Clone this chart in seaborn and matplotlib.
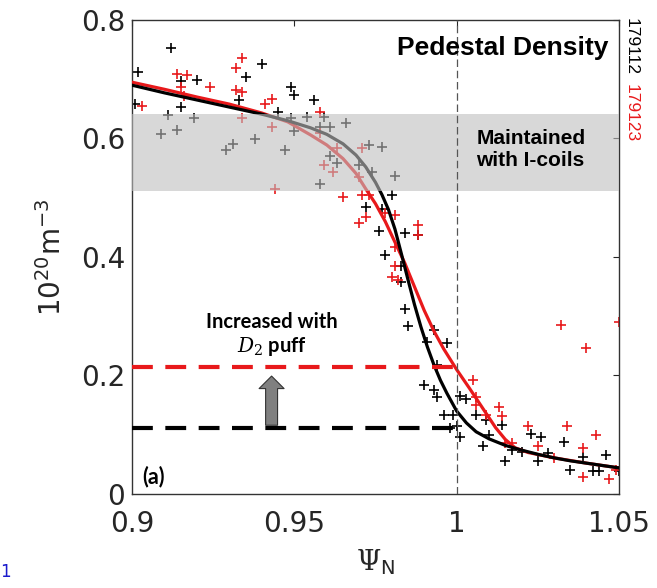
import matplotlib
matplotlib.use("Agg")
import matplotlib.pyplot as plt
import seaborn as sns

# shot 179112 (black) raw points
black_x = [0.912, 0.902, 0.915, 0.920, 0.940, 0.935, 0.933, 0.915, 0.901, 0.949, 0.950, 0.945, 0.956,
           0.911, 0.919, 0.909, 0.914, 0.929, 0.931, 0.938, 0.947, 0.949, 0.950, 0.954, 0.958, 0.961,
           0.966, 0.973, 0.977, 0.961, 0.963, 0.970, 0.974, 0.981, 0.958, 0.959,
           0.980, 0.972, 0.977, 0.976, 0.984, 0.988, 0.978, 0.983, 0.983, 0.984, 0.985, 0.993, 0.991,
           0.997, 0.994, 0.990, 0.993, 0.994, 1.001, 1.003, 0.996, 0.999, 1.006, 0.998, 1.000, 1.001,
           1.009, 1.014, 1.010, 1.008, 1.023, 1.026, 1.017, 1.020, 1.015, 1.025, 1.028, 1.033, 1.039,
           1.035, 1.042, 1.044, 1.046, 1.050]
black_y = [0.753, 0.712, 0.697, 0.698, 0.726, 0.703, 0.665, 0.653, 0.658, 0.687, 0.673, 0.644, 0.665,
           0.640, 0.635, 0.607, 0.614, 0.581, 0.590, 0.599, 0.581, 0.634, 0.612, 0.637, 0.620, 0.619,
           0.626, 0.589, 0.586, 0.571, 0.558, 0.555, 0.544, 0.537, 0.524, 0.637,
           0.505, 0.485, 0.481, 0.444, 0.440, 0.437, 0.403, 0.385, 0.358, 0.313, 0.284, 0.277, 0.257,
           0.255, 0.218, 0.184, 0.176, 0.164, 0.165, 0.160, 0.133, 0.133, 0.133, 0.111, 0.114, 0.097,
           0.125, 0.117, 0.100, 0.081, 0.102, 0.097, 0.074, 0.071, 0.055, 0.055, 0.069, 0.088, 0.063,
           0.041, 0.038, 0.038, 0.066, 0.038]

# shot 179123 (red) raw points
red_x = [0.934, 0.932, 0.914, 0.917, 0.915, 0.924, 0.932, 0.934, 0.916, 0.943, 0.941, 0.903, 0.958,
         0.934, 0.943, 0.944, 0.958, 0.963, 0.971, 0.959, 0.962, 0.970,
         0.965, 0.971, 0.973, 0.972, 0.970, 0.978, 0.981, 0.988, 0.988, 0.981, 0.981, 0.980, 0.982,
         1.032, 1.050, 1.040, 1.005, 1.006, 1.006, 1.013, 1.014, 1.009, 1.022, 1.034, 1.043, 1.015,
         1.017, 1.025, 1.030, 1.039, 1.039, 1.047, 1.049]
red_y = [0.736, 0.719, 0.709, 0.708, 0.687, 0.687, 0.681, 0.679, 0.672, 0.667, 0.658, 0.655, 0.644,
         0.634, 0.620, 0.515, 0.609, 0.584, 0.584, 0.555, 0.544, 0.535,
         0.502, 0.505, 0.505, 0.468, 0.457, 0.474, 0.471, 0.454, 0.437, 0.417, 0.385, 0.367, 0.361,
         0.285, 0.290, 0.247, 0.192, 0.164, 0.150, 0.146, 0.131, 0.133, 0.115, 0.115, 0.099, 0.086,
         0.086, 0.081, 0.060, 0.078, 0.029, 0.025, 0.041]

# fitted profiles
fit_black_x = [0.900, 0.910, 0.920, 0.930, 0.940, 0.948, 0.955, 0.960, 0.965, 0.969, 0.972, 0.975,
               0.977, 0.979, 0.981, 0.983, 0.985, 0.987, 0.989, 0.991, 0.993, 0.995, 0.997, 1.000,
               1.003, 1.006, 1.010, 1.015, 1.020, 1.025, 1.030, 1.035, 1.040, 1.045, 1.050]
fit_black_y = [0.690, 0.677, 0.665, 0.653, 0.641, 0.630, 0.618, 0.607, 0.591, 0.572, 0.552, 0.526,
               0.505, 0.480, 0.447, 0.405, 0.362, 0.320, 0.282, 0.248, 0.218, 0.192, 0.170, 0.140,
               0.120, 0.105, 0.093, 0.082, 0.074, 0.067, 0.061, 0.056, 0.052, 0.048, 0.044]
fit_red_x = [0.900, 0.910, 0.920, 0.930, 0.940, 0.948, 0.955, 0.960, 0.965, 0.969, 0.972, 0.975,
             0.978, 0.981, 0.984, 0.987, 0.990, 0.993, 0.996, 1.000, 1.004, 1.008, 1.012, 1.015,
             1.018, 1.022, 1.030, 1.040, 1.050]
fit_red_y = [0.695, 0.683, 0.670, 0.658, 0.643, 0.628, 0.606, 0.589, 0.566, 0.541, 0.515, 0.490,
             0.460, 0.425, 0.390, 0.350, 0.310, 0.275, 0.245, 0.210, 0.178, 0.145, 0.112, 0.092,
             0.078, 0.070, 0.061, 0.052, 0.044]

band = (0.511, 0.641)
level_before = 0.112
level_after = 0.215
x_ticks = [0.9, 0.95, 1.0, 1.05]
x_ticklabels = ["0.9", "0.95", "1", "1.05"]
y_ticks = [0, 0.2, 0.4, 0.6, 0.8]
y_ticklabels = ["0", "0.2", "0.4", "0.6", "0.8"]

sns.set_style("white")
plt.rcParams["font.family"] = ["DejaVu Sans"]
plt.rcParams["mathtext.fontset"] = "custom"
plt.rcParams["mathtext.rm"] = "DejaVu Serif"
plt.rcParams["mathtext.it"] = "DejaVu Serif:italic"
plt.rcParams["mathtext.sf"] = "DejaVu Sans"
plt.rcParams["mathtext.bf"] = "DejaVu Serif:bold"

fig = plt.figure(figsize=(6.57, 5.88), dpi=100)
ax = fig.add_axes([0.2009, 0.1599, 0.7412, 0.8061])

sns.scatterplot(x=black_x, y=black_y, marker="+", color="black", s=60, linewidth=1.2, ax=ax, zorder=2)
sns.scatterplot(x=red_x, y=red_y, marker="+", color="#e8191b", s=60, linewidth=1.2, ax=ax, zorder=2)
sns.lineplot(x=fit_red_x, y=fit_red_y, color="#e8191b", lw=2.3, ax=ax, zorder=3, sort=False)
sns.lineplot(x=fit_black_x, y=fit_black_y, color="black", lw=2.3, ax=ax, zorder=3, sort=False)

# gray band washes out whatever sits behind it
ax.axhspan(band[0], band[1], color=(0.75, 0.75, 0.75), alpha=0.6, lw=0, zorder=4)
ax.axvline(1.0, color="#555555", lw=0.9, dashes=(6, 3), zorder=5)

ax.plot([0.9, 1.0], [level_after, level_after], color="#e8191b", lw=3, dashes=(5, 3), zorder=3)
ax.plot([0.9, 1.0], [level_before, level_before], color="black", lw=3, dashes=(5, 3), zorder=3)
ax.annotate("", xy=(0.943, 0.199), xytext=(0.943, 0.116),
            arrowprops=dict(arrowstyle="simple,head_length=0.45,head_width=0.9,tail_width=0.43",
                            mutation_scale=20, fc="#808080", ec="#333333", lw=0.8,
                            shrinkA=0, shrinkB=0), zorder=5)

ax.text(0.943, 0.291, "Increased with", ha="center", va="center", fontsize=14.5, color="black",
        fontweight="bold", family=["Lato", "DejaVu Sans"], zorder=6)
ax.text(0.943, 0.249, "$D_2$ puff", ha="center", va="center", fontsize=14.5, color="black",
        fontweight="bold", family=["Lato", "DejaVu Sans"], zorder=6)
ax.text(0.9032, 0.029, "(a)", ha="left", va="center", fontsize=15.5, color="black",
        fontweight="bold", family=["Lato", "DejaVu Sans"], zorder=6)
ax.text(1.0466, 0.753, "Pedestal Density", ha="right", va="center", fontsize=19, color="black",
        fontweight="bold", family=["Liberation Sans"], zorder=6)
ax.text(1.0229, 0.581, "Maintained\nwith I-coils", ha="center", va="center", fontsize=15,
        color="black", fontweight="bold", family=["Liberation Sans"], multialignment="left",
        zorder=6)

fig.text(631 / 657, 1 - 18 / 588, "179112", rotation=270, ha="center", va="top",
         fontsize=12.5, family=["Liberation Sans"], color="black")
fig.text(631 / 657, 1 - 84 / 588, "179123", rotation=270, ha="center", va="top",
         fontsize=12.5, family=["Liberation Sans"], color="#e8191b")
fig.text(0.008, 0.027, "1", ha="center", va="center", fontsize=12, color="#1a1acc")

ax.set_xlim(0.9, 1.05)
ax.set_ylim(0, 0.8)
ax.set_xticks(x_ticks)
ax.set_xticklabels(x_ticklabels)
ax.set_yticks(y_ticks)
ax.set_yticklabels(y_ticklabels)
ax.tick_params(direction="in", top=True, right=True, length=4, width=0.8,
               labelsize=20, pad=5, colors="#262626")
ax.tick_params(axis="x", pad=11.5)
for sp in ax.spines.values():
    sp.set_color("#333333")
    sp.set_linewidth(1.0)

ax.set_ylabel(r"$\mathsf{10^{20}m^{-3}}$", fontsize=20, labelpad=10)
ax.set_xlabel(r"$\Psi_\mathsf{N}$", fontsize=20, labelpad=7)

fig.savefig("out.png", dpi=100)
